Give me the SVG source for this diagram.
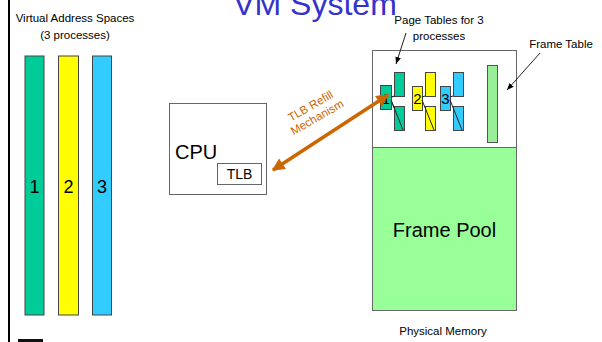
<svg xmlns="http://www.w3.org/2000/svg" width="602" height="342" viewBox="0 0 602 342">
<style>
text{font-family:"Liberation Sans",Arial,sans-serif;fill:#000}
.lbl{font-size:11.5px}
.box{fill:#fff;stroke:#666;stroke-width:1}
.pt{stroke:#444;stroke-width:1}
.g{fill:#00cc99}.y{fill:#ffff00}.b{fill:#33ccff}
.thin{stroke:#222;stroke-width:1;fill:none}
</style>
<defs>
<marker id="ah" viewBox="0 0 10 10" refX="10" refY="5" markerWidth="7" markerHeight="7" markerUnits="userSpaceOnUse" orient="auto"><path d="M0,1 L10,5 L0,9 z" fill="#000"/></marker>
<marker id="oh" viewBox="0 0 10 10" refX="9" refY="5" markerWidth="4" markerHeight="3.6" orient="auto-start-reverse"><path d="M0,0 L10,5 L0,10 z" fill="#cc6600"/></marker>
</defs>
<rect x="0" y="0" width="602" height="342" fill="#fff"/>
<rect x="8" y="0" width="2" height="342" fill="#000"/>
<rect x="18" y="339" width="25" height="3" fill="#111"/>
<text x="315" y="15" font-size="32" text-anchor="middle" style="fill:#3333cc">VM System</text>
<g id="vas">
<text class="lbl" x="75" y="22" text-anchor="middle">Virtual Address Spaces</text>
<text class="lbl" x="75" y="39" text-anchor="middle">(3 processes)</text>
<rect class="g pt" x="25" y="56" width="19" height="259"/>
<rect class="y pt" x="58.5" y="56" width="20" height="259"/>
<rect class="b pt" x="92.5" y="56" width="19" height="259"/>
<text x="34.5" y="193" font-size="18" text-anchor="middle">1</text>
<text x="68.5" y="193" font-size="18" text-anchor="middle">2</text>
<text x="102" y="193" font-size="18" text-anchor="middle">3</text>
</g>
<g id="cpu">
<rect class="box" x="169.5" y="103.5" width="97" height="91"/>
<text x="175" y="159" font-size="20">CPU</text>
<rect class="box" x="217.5" y="163.5" width="44" height="21"/>
<text x="239.5" y="179" font-size="14" text-anchor="middle">TLB</text>
</g>
<g id="physmem">
<rect class="box" x="372.5" y="50.5" width="144" height="97"/>
<rect x="372.5" y="147.5" width="144" height="163" fill="#99ff99" stroke="#666"/>
<text x="444.5" y="237" font-size="20" text-anchor="middle">Frame Pool</text>
<text class="lbl" x="443" y="335" text-anchor="middle">Physical Memory</text>
</g>
<g id="pagetables">
<text class="lbl" x="439" y="24" text-anchor="middle">Page Tables for 3</text>
<text class="lbl" x="439" y="40" text-anchor="middle">processes</text>
<line class="thin" x1="391" y1="97" x2="395" y2="96"/>
<line class="thin" x1="391" y1="100" x2="403" y2="130"/>
<rect class="g pt" x="380.5" y="85.5" width="11" height="24"/>
<rect class="g pt" x="394.5" y="72.5" width="10" height="24"/>
<rect class="g pt" x="394.5" y="106.5" width="10" height="24"/>
<line class="thin" x1="391" y1="97" x2="395" y2="96"/>
<line class="thin" x1="391" y1="100" x2="403" y2="130"/>
<text x="386" y="104" font-size="15" text-anchor="middle">1</text>
<rect class="y pt" x="412.5" y="86.5" width="10" height="24"/>
<rect class="y pt" x="425.5" y="72.5" width="10" height="24"/>
<rect class="y pt" x="425.5" y="106.5" width="10" height="24"/>
<line class="thin" x1="422" y1="97" x2="425" y2="96"/>
<line class="thin" x1="422" y1="100" x2="434" y2="130"/>
<text x="417.5" y="104" font-size="15" text-anchor="middle">2</text>
<rect class="b pt" x="440.5" y="86.5" width="10" height="24"/>
<rect class="b pt" x="453.5" y="72.5" width="10" height="24"/>
<rect class="b pt" x="453.5" y="106.5" width="10" height="24"/>
<line class="thin" x1="450" y1="97" x2="453" y2="96"/>
<line class="thin" x1="450" y1="100" x2="462" y2="130"/>
<text x="445.5" y="104" font-size="15" text-anchor="middle">3</text>
</g>
<g id="frametable">
<text class="lbl" x="561" y="48" text-anchor="middle">Frame Table</text>
<rect x="487.5" y="65.5" width="10" height="77" fill="#99ee99" stroke="#555"/>
</g>
<g id="connectors">
<line class="thin" x1="406" y1="33" x2="396" y2="64" marker-end="url(#ah)"/>
<line class="thin" x1="540" y1="53" x2="507" y2="90" marker-end="url(#ah)"/>
<line x1="273" y1="170" x2="388" y2="95" stroke="#cc6600" stroke-width="3.5" marker-start="url(#oh)" marker-end="url(#oh)"/>
<g transform="translate(314,112) rotate(-30)" style="font-size:11.5px">
<text x="0" y="-3" text-anchor="middle" style="fill:#cc6600">TLB Refill</text>
<text x="0" y="10" text-anchor="middle" style="fill:#cc6600">Mechanism</text>
</g>
</g>
</svg>
